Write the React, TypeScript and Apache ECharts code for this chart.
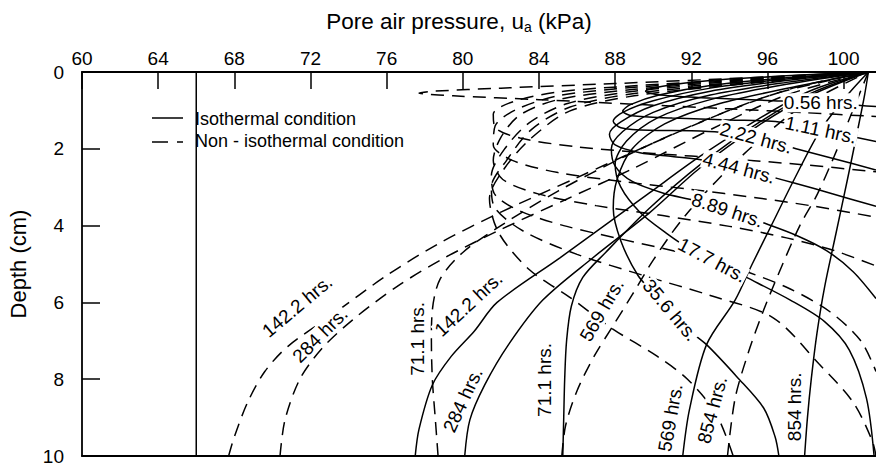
import React, { useEffect, useRef } from 'react';
import * as echarts from 'echarts';

// Axis ticks
const pressureTicks = [60, 64, 68, 72, 76, 80, 84, 88, 92, 96, 100];
const depthTicks = [0, 2, 4, 6, 8, 10];

// Isothermal condition (solid) profiles: [pore air pressure kPa, depth cm]
const isoInitial = [[66, 0], [66, 10]];
const iso056 = [[101.3, 0], [97, 0.1], [93, 0.22], [90.5, 0.37], [89.6, 0.5], [90.4, 0.6], [93, 0.68], [96, 0.74], [98.8, 0.8], [101.7, 0.9]];
const iso111 = [[101.3, 0], [97, 0.15], [93, 0.35], [90.3, 0.6], [88.8, 0.85], [88.4, 1.02], [88.9, 1.14], [91, 1.2], [94, 1.25], [96.6, 1.3], [98.8, 1.51], [101.7, 1.81]];
const iso222 = [[101.3, 0], [97, 0.18], [93, 0.42], [90, 0.75], [88.4, 1.05], [87.9, 1.28], [88.3, 1.45], [89.8, 1.52], [92, 1.53], [93.5, 1.57], [95.4, 1.72], [97.5, 2.0], [99.5, 2.26], [101.7, 2.55]];
const iso444 = [[101.3, 0], [97, 0.22], [93, 0.5], [90, 0.88], [88.3, 1.3], [87.7, 1.62], [88.0, 1.9], [89.3, 2.1], [91, 2.2], [92.7, 2.3], [94.5, 2.5], [96.5, 2.77], [98.5, 3.04], [100.3, 3.3], [101.7, 3.5]];
const iso889 = [[101.3, 0], [97, 0.27], [93, 0.6], [90, 1.05], [88.4, 1.55], [87.8, 2.0], [88.0, 2.45], [88.9, 2.85], [90.5, 3.15], [92.2, 3.35], [93.9, 3.6], [95.75, 3.92], [97.5, 4.25], [99.1, 4.65], [100.5, 5.2], [101.7, 5.9]];
const iso177 = [[101.3, 0], [97, 0.32], [93, 0.72], [90.2, 1.2], [88.6, 1.8], [88.0, 2.4], [88.3, 3.0], [89.3, 3.65], [90.7, 4.2], [91.9, 4.6], [93.1, 4.9], [94.9, 5.35], [97.2, 5.94], [99, 6.5], [100.3, 7.24], [101.2, 8.5], [101.6, 10]];
const iso356 = [[101.3, 0], [97.5, 0.38], [93.5, 0.82], [90.6, 1.35], [88.9, 2.0], [88.1, 2.8], [87.9, 3.55], [88.3, 4.4], [89.2, 5.3], [90.0, 5.75], [90.9, 6.25], [91.8, 6.7], [92.8, 7.1], [94.4, 7.94], [95.8, 8.75], [96.4, 9.5], [96.6, 10]];
const iso711 = [[85.25, 10], [85.3, 9], [85.35, 8], [85.45, 7], [85.7, 6.1], [86.3, 5.35], [87.5, 4.7], [89.8, 3.55], [92.5, 2.4], [95.6, 1.3], [98.3, 0.55], [101.3, 0]];
const iso1422 = [[77.5, 10], [77.7, 9.3], [78.4, 8.15], [79.4, 7.4], [80.6, 6.75], [81.8, 6.0], [85.1, 4.84], [89.8, 3.15], [92.45, 2.2], [95.6, 1.2], [98.2, 0.5], [101.3, 0]];
const iso284 = [[80.1, 10], [80.37, 9.06], [81.15, 8.15], [82.4, 7.1], [84.2, 5.94], [86.8, 4.85], [89.8, 3.67], [92.45, 2.5], [95.5, 1.4], [98.3, 0.6], [101.3, 0]];
const iso569 = [[91.55, 10], [91.9, 8.8], [92.8, 7.1], [94.3, 5.94], [95.2, 5.0], [96.3, 3.9], [97.4, 2.8], [98.8, 1.5], [100.2, 0.6], [101.3, 0]];
const iso854 = [[97.95, 10], [98.1, 9], [98.3, 8], [98.6, 6.8], [99.0, 5.6], [99.6, 4.2], [100.2, 2.8], [100.7, 1.6], [101.1, 0.6], [101.3, 0]];

// Non-isothermal condition (dashed) profiles
const non056 = [[101.3, 0], [95, 0.15], [88, 0.3], [82, 0.42], [78.5, 0.5], [77.7, 0.55], [79.5, 0.62], [84, 0.72], [89, 0.84], [94, 0.96], [98, 1.06], [101.7, 1.16]];
const non111 = [[101.3, 0], [95, 0.18], [89, 0.36], [85, 0.52], [82.6, 0.78], [81.6, 1.1], [81.7, 1.45], [83, 1.72], [86, 1.95], [90, 2.12], [94, 2.26], [98, 2.42], [101.7, 2.6]];
const non222 = [[101.3, 0], [95, 0.2], [89, 0.4], [85, 0.62], [82.8, 0.98], [81.7, 1.4], [81.6, 1.9], [82.6, 2.3], [85, 2.62], [88.5, 2.86], [92, 3.06], [95.5, 3.28], [98.5, 3.5], [101.7, 3.78]];
const non444 = [[101.3, 0], [95, 0.22], [89, 0.45], [85, 0.72], [83, 1.12], [82.0, 1.7], [81.6, 2.3], [82.1, 2.8], [84, 3.18], [87, 3.48], [90.5, 3.74], [94, 4.02], [97, 4.32], [99.5, 4.65], [101.7, 5.05]];
const non889 = [[101.3, 0], [95, 0.25], [89, 0.5], [85.5, 0.82], [83.5, 1.32], [82.2, 2.0], [81.5, 2.7], [81.7, 3.2], [83, 3.62], [85.3, 4.0], [88.3, 4.35], [91.6, 4.72], [94.6, 5.15], [97.2, 5.65], [99.3, 6.25], [100.9, 7.0], [101.7, 7.8]];
const non177 = [[101.3, 0], [95, 0.28], [89, 0.56], [85.6, 0.92], [83.6, 1.5], [82.3, 2.3], [81.5, 3.0], [81.7, 3.55], [83.2, 4.15], [86, 4.75], [89.5, 5.3], [93, 5.82], [96.3, 6.4], [98.7, 7.6], [100.5, 8.6], [101.5, 9.6], [101.7, 10]];
const non356 = [[101.3, 0], [95, 0.3], [89, 0.62], [85.6, 1.02], [83.6, 1.72], [82.2, 2.5], [81.4, 3.3], [81.9, 4.2], [83.5, 5.15], [85.6, 5.86], [87.9, 6.7], [90.2, 7.4], [91.8, 8.0], [93.3, 8.9], [94.2, 10]];
const non711 = [[78.7, 10], [78.55, 9], [78.4, 8], [78.35, 7], [78.4, 6.2], [78.8, 5.4], [80, 4.7], [82, 4.0], [85, 3.1], [88.5, 2.2], [92.5, 1.3], [96.5, 0.55], [101.3, 0]];
const non1422 = [[67.7, 10], [68.0, 9.5], [68.7, 8.6], [69.6, 7.8], [70.8, 7.15], [73.2, 6.3], [76, 5.3], [78.8, 4.45], [82, 3.65], [86, 2.75], [90, 1.85], [94, 1.0], [97.5, 0.4], [101.3, 0]];
const non284 = [[70.4, 10], [70.66, 9.06], [71.44, 8.0], [72.6, 7.2], [74.2, 6.46], [76.5, 5.6], [79, 4.85], [82, 4.1], [85.5, 3.3], [89, 2.5], [93, 1.5], [97, 0.6], [101.3, 0]];
const non569 = [[85.2, 10], [85.4, 9.2], [86, 8.3], [86.9, 7.4], [87.9, 6.6], [88.9, 5.8], [90, 4.9], [91.5, 3.85], [93.3, 2.85], [95.4, 1.85], [97.8, 0.9], [101.3, 0]];
const non854 = [[93.9, 10], [94.3, 8.5], [95.0, 7.3], [95.8, 6.2], [96.8, 5.0], [97.7, 4.0], [98.6, 3.2], [99.5, 2.2], [100.4, 1.1], [101.3, 0]];

// Curve labels: text, pressure, depth, rotation (deg)
const labelTexts = ['0.56 hrs.', '1.11 hrs.', '2.22 hrs.', '4.44 hrs.', '8.89 hrs.', '17.7 hrs.', '35.6 hrs.', '142.2 hrs.', '284 hrs.', '71.1 hrs.', '142.2 hrs.', '284 hrs.', '71.1 hrs.', '569 hrs.', '569 hrs.', '854 hrs.', '854 hrs.'];
const labelPressure = [98.8, 98.8, 95.4, 94.5, 93.9, 93.1, 90.9, 71.3, 72.5, 77.6, 80.3, 80.0, 84.3, 87.3, 90.9, 93.1, 97.4];
const labelDepth = [0.8, 1.51, 1.72, 2.5, 3.6, 4.9, 6.2, 6.1, 6.85, 6.95, 6.05, 8.54, 8.02, 6.2, 9.0, 8.8, 8.72];
const labelRotation = [0, -12, -15, -15, -18, -28, -50, 40, 45, 90, 43, 65, 90, 60, 80, 75, 90];

const FONT = '"Liberation Sans", Arial, Helvetica, sans-serif';

const isoCurves = [isoInitial, iso056, iso111, iso222, iso444, iso889, iso177, iso356, iso711, iso1422, iso284, iso569, iso854];
const nonCurves = [non056, non111, non222, non444, non889, non177, non356, non711, non1422, non284, non569, non854];

function lineSeries(data: number[][], dashed: boolean) {
  return {
    type: 'line',
    data,
    showSymbol: false,
    symbol: 'none',
    smooth: 0.3,
    silent: true,
    lineStyle: { color: '#000', width: 1.5, type: dashed ? [13, 8] : 'solid' },
    z: 2,
  };
}

const legendGraphics = [
  { type: 'line', shape: { x1: 152, y1: 118, x2: 183, y2: 118 }, style: { stroke: '#000', lineWidth: 1.5 } },
  { type: 'line', shape: { x1: 152, y1: 142, x2: 183, y2: 142 }, style: { stroke: '#000', lineWidth: 1.5, lineDash: [16, 9] } },
  { type: 'text', x: 195, y: 119, style: { text: 'Isothermal condition', fill: '#000', fontSize: 18, fontFamily: FONT, verticalAlign: 'middle' } },
  { type: 'text', x: 195, y: 141, style: { text: 'Non - isothermal condition', fill: '#000', fontSize: 18, fontFamily: FONT, verticalAlign: 'middle' } },
  {
    type: 'text',
    x: 459,
    y: 21,
    style: {
      text: 'Pore air pressure, u{sub|a} (kPa)',
      fill: '#000',
      fontSize: 22.5,
      fontFamily: FONT,
      align: 'center',
      verticalAlign: 'middle',
      rich: { sub: { fontSize: 14, fontFamily: FONT, fill: '#000', padding: [12, 0, 0, 0] } },
    },
  },
];

export default function App() {
  const ref = useRef<HTMLDivElement>(null);
  useEffect(() => {
    const chart = echarts.init(ref.current!, null, { renderer: 'svg' });
    const series: any[] = [
      ...isoCurves.map((d) => lineSeries(d, false)),
      ...nonCurves.map((d) => lineSeries(d, true)),
    ];
    chart.setOption({
      animation: false,
      backgroundColor: '#fff',
      grid: { left: 82, top: 72, right: 0, bottom: 12, containLabel: false, outerBoundsMode: 'none' },
      xAxis: [
        {
          type: 'value',
          position: 'top',
          min: 60,
          max: 101.7,
          interval: 4,
          axisLine: { lineStyle: { color: '#000', width: 1.8 } },
          axisTick: { inside: true, length: 17, lineStyle: { color: '#000', width: 1.5 }, customValues: pressureTicks },
          axisLabel: { customValues: pressureTicks, color: '#000', fontSize: 19, margin: 4, fontFamily: FONT },
          splitLine: { show: false },
        },
        {
          type: 'value',
          position: 'bottom',
          min: 60,
          max: 101.7,
          axisLine: { show: true, lineStyle: { color: '#000', width: 1.8 } },
          axisTick: { show: false },
          axisLabel: { show: false },
          splitLine: { show: false },
        },
      ],
      yAxis: {
        type: 'value',
        inverse: true,
        min: 0,
        max: 10,
        interval: 2,
        axisLine: { show: true, lineStyle: { color: '#000', width: 1.8 } },
        axisTick: { show: true, inside: true, length: 18, lineStyle: { color: '#000', width: 1.5 }, customValues: depthTicks },
        axisLabel: { customValues: depthTicks, color: '#000', fontSize: 19, margin: 18, fontFamily: FONT },
        splitLine: { show: false },
        name: 'Depth (cm)',
        nameLocation: 'middle',
        nameGap: 53,
        nameTextStyle: { color: '#000', fontSize: 22, fontFamily: FONT },
      },
      graphic: legendGraphics,
      series,
    });
    const labelGraphics = labelTexts.map((t, i) => {
      const p = chart.convertToPixel({ gridIndex: 0 } as any, [labelPressure[i], labelDepth[i]]) as number[];
      return {
        type: 'text',
        x: p[0],
        y: p[1],
        rotation: (labelRotation[i] * Math.PI) / 180,
        z: 20,
        style: {
          text: t,
          fill: '#000',
          fontSize: 19,
          fontFamily: FONT,
          align: 'center',
          verticalAlign: 'middle',
          backgroundColor: '#fff',
          padding: [0, 1],
        },
      };
    });
    chart.setOption({ graphic: [...legendGraphics, ...labelGraphics] });
    return () => chart.dispose();
  }, []);
  return <div ref={ref} style={{ position: 'fixed', left: 0, top: 0, width: 876, height: 468, background: '#fff' }} />;
}
